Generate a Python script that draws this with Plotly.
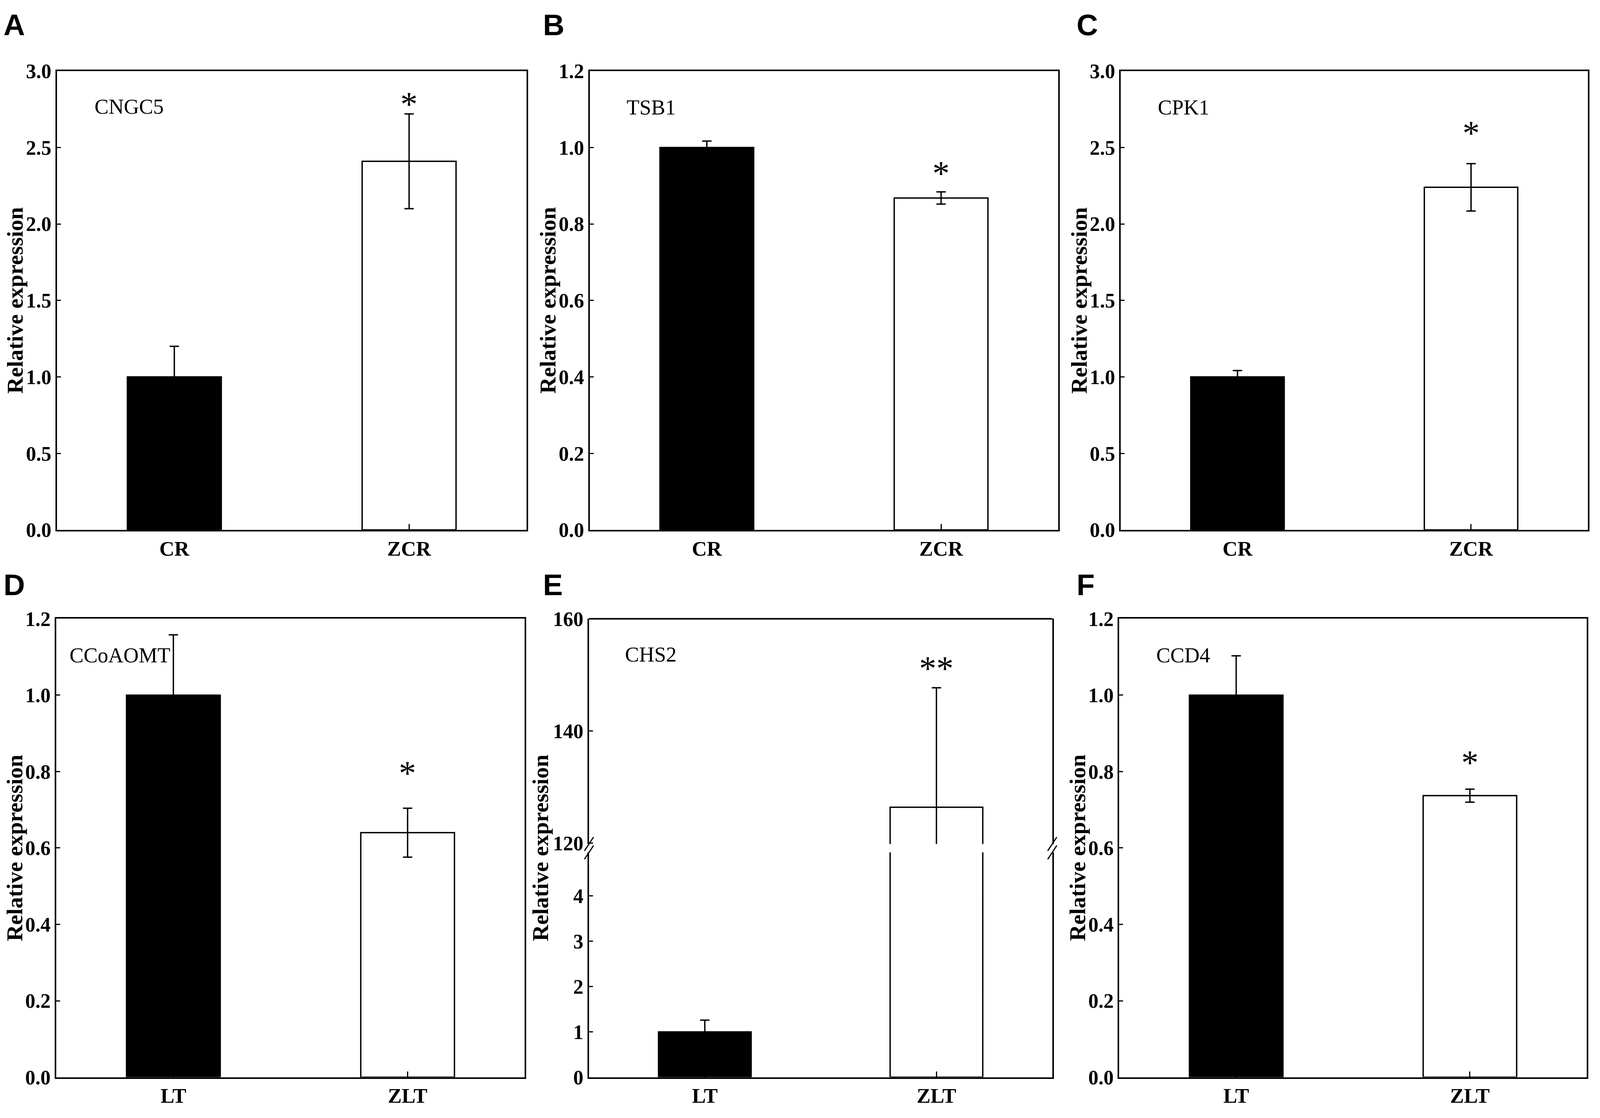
import plotly.graph_objects as go

# reference layout was measured on a 4562 x 2861 picture; the browser only
# photographs about 4090 px across, so the figure is drawn a bit narrower
REF_W, REF_H = 4562, 2861
FIG_W, FIG_H = 4080, 2861

# data
panel_letters = ["A", "B", "C", "D", "E", "F"]
genes = ["CNGC5", "TSB1", "CPK1", "CCoAOMT", "CHS2", "CCD4"]
groups_top = ["CR", "ZCR"]
groups_bottom = ["LT", "ZLT"]
control_mean = [1.0, 1.0, 1.0, 1.0, 1.0, 1.0]
control_err = [0.20, 0.017, 0.042, 0.158, 0.26, 0.103]
treated_mean = [2.41, 0.868, 2.24, 0.64, 126.4, 0.737]
treated_err = [0.31, 0.016, 0.155, 0.064, 21.3, 0.017]
signif = ["*", "*", "*", "*", "**", "*"]
signif_y = [2.82, 0.947, 2.63, 0.81, 152.1, 0.838]
y_max = [3.0, 1.2, 3.0, 1.2, None, 1.2]
y_step = [0.5, 0.2, 0.5, 0.2, None, 0.2]
# panel E has a broken axis
e_low_ticks = [0, 1, 2, 3, 4]
e_high_ticks = [120, 140, 160]
e_low_top = 4.964
e_high_bottom = 119.86
e_high_top = 160

SERIF = "Liberation Serif"
SANS = "Liberation Sans"

# frame boxes in reference pixels: left, top, right, bottom
frames = [
    (163, 157, 1507, 1355),
    (1688, 157, 3029, 1355),
    (3208, 157, 4545, 1355),
    (161, 1587, 1502, 2784),
    (1686, 1587, 3012, 2784),
    (3204, 1587, 4542, 2784),
]
title_off = [119, 119, 119, 119, 138, 119]
letter_pos = [(8, 8), (1552, 8), (3079, 8), (8, 1470), (1552, 1470), (3079, 1470)]
gene_pos = [(0.078, 0.922), (0.077, 0.921), (0.078, 0.921), (0.027, 0.92), (0.076, 0.922), (0.077, 0.92)]
E_GAP = (2175, 2197)  # pixel rows of the break in panel E


def fx(p):
    return p / REF_W


def fy(p):
    return 1 - p / REF_H


fig = go.Figure()
annotations = []
shapes = []

ytick_font = dict(family=SERIF, size=52, color="black", weight="bold")
xtick_font = dict(family=SERIF, size=53, color="black", weight="bold")
axis_common = dict(showgrid=False, zeroline=False, showline=True, linecolor="black",
                   linewidth=4, ticks="inside", tickcolor="black", tickwidth=3)


def bar_trace(i, xa, ya):
    cats = groups_top if i < 3 else groups_bottom
    return go.Bar(
        x=cats, y=[control_mean[i], treated_mean[i]],
        xaxis=xa, yaxis=ya, width=0.4,
        marker=dict(color=["black", "white"], line=dict(color="black", width=3.5)),
        error_y=dict(type="data", array=[control_err[i], treated_err[i]],
                     color="black", thickness=3.5, width=12),
        showlegend=False, hoverinfo="skip",
    )


for i in range(6):
    n = i + 1
    sfx = "" if n == 1 else str(n)
    l, t, r, b = frames[i]
    xa_name = "x" + sfx
    ya_name = "y" + sfx

    fig.update_layout({
        "xaxis" + sfx: dict(axis_common, domain=[fx(l), fx(r)], anchor=ya_name,
                            range=[-0.5, 1.5], ticklen=15, mirror=(i != 4),
                            tickfont=xtick_font, ticklabelstandoff=-2),
    })

    if i != 4:
        fig.update_layout({
            "yaxis" + sfx: dict(axis_common, domain=[fy(b), fy(t)], anchor=xa_name,
                                range=[0, y_max[i]], dtick=y_step[i], tick0=0,
                                tickformat=".1f", ticklen=10, mirror=True,
                                tickfont=ytick_font, ticklabelstandoff=0),
        })
        fig.add_trace(bar_trace(i, xa_name, ya_name))
        star_ref = ya_name
    else:
        # lower and upper parts of the broken axis
        fig.update_layout({
            "yaxis5": dict(axis_common, domain=[fy(b), fy(E_GAP[1])], anchor="x5",
                           range=[0, e_low_top], tickvals=e_low_ticks, ticklen=10,
                           mirror=True, tickfont=ytick_font, ticklabelstandoff=0),
            "yaxis7": dict(axis_common, domain=[fy(E_GAP[0]), fy(t)], anchor="x5",
                           range=[e_high_bottom, e_high_top], tickvals=e_high_ticks,
                           ticklen=10, mirror=True, tickfont=ytick_font,
                           ticklabelstandoff=0),
        })
        fig.add_trace(bar_trace(i, "x5", "y5"))
        fig.add_trace(bar_trace(i, "x5", "y7"))
        star_ref = "y7"
        # top edge of the frame
        shapes.append(dict(type="line", xref="paper", yref="paper",
                           x0=fx(l), x1=fx(r), y0=fy(t), y1=fy(t),
                           line=dict(color="black", width=4)))
        # break marks
        for ax_x in (l, r):
            for gy in E_GAP:
                shapes.append(dict(type="line", xref="paper", yref="paper",
                                   x0=fx(ax_x - 13), y0=fy(gy + 18),
                                   x1=fx(ax_x + 13), y1=fy(gy - 18),
                                   line=dict(color="black", width=3)))

    # significance stars
    annotations.append(dict(
        x=1, y=signif_y[i], xref=xa_name, yref=star_ref, text=signif[i],
        showarrow=False, yshift=-14, xanchor="center", yanchor="middle",
        font=dict(family=SERIF, size=88, color="black")))

    # gene name inside the panel
    gx, gy = gene_pos[i]
    annotations.append(dict(
        x=fx(l + gx * (r - l)), y=fy(b - gy * (b - t)), xref="paper", yref="paper",
        text=genes[i], showarrow=False, xanchor="left", yanchor="middle",
        font=dict(family=SERIF, size=54, color="black")))

    # y axis title
    annotations.append(dict(
        x=fx(l - title_off[i]), y=fy((t + b) / 2), xref="paper", yref="paper",
        text="<b>Relative expression</b>", textangle=-90, showarrow=False,
        xanchor="center", yanchor="middle",
        font=dict(family=SERIF, size=58, color="black")))

    # panel letter
    lx, ly = letter_pos[i]
    annotations.append(dict(
        x=fx(lx), y=fy(ly + 28), xref="paper", yref="paper",
        text="<b>" + panel_letters[i] + "</b>", showarrow=False,
        xanchor="left", yanchor="middle",
        font=dict(family=SANS, size=76, color="black")))

fig.update_layout(
    width=FIG_W, height=FIG_H,
    margin=dict(l=0, r=0, t=0, b=0),
    paper_bgcolor="white", plot_bgcolor="white",
    annotations=annotations, shapes=shapes,
    font=dict(family=SERIF, color="black"),
)

fig.write_html("out.html", config={"displayModeBar": False},
               post_script="document.body.style.margin='0';")
